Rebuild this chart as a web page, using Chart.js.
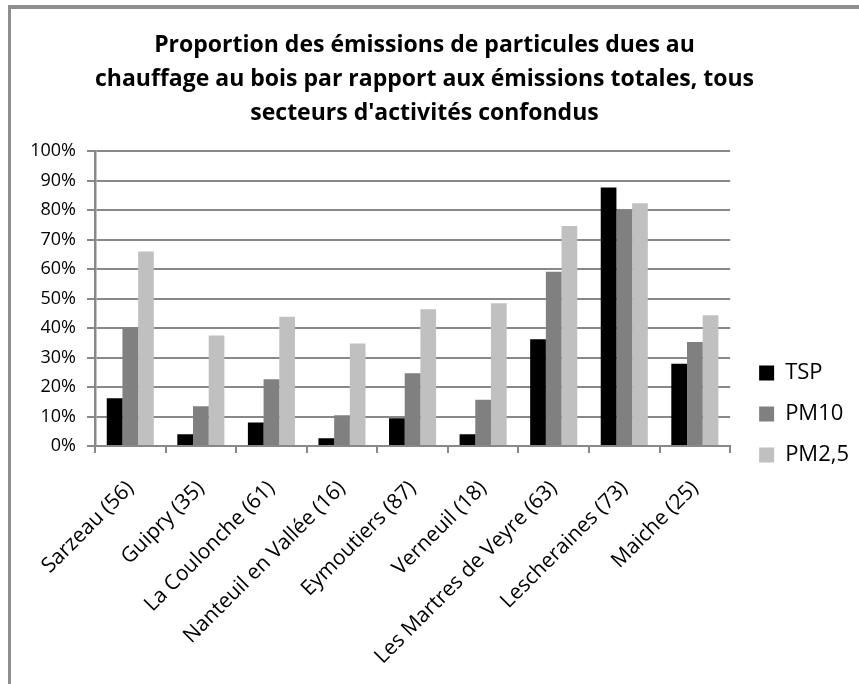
<!DOCTYPE html>
<html><head><meta charset="utf-8">
<script src="https://cdn.jsdelivr.net/npm/chart.js@4/dist/chart.umd.min.js"></script>
<style>
html,body{margin:0;padding:0;background:#fff;}
#wrap{position:relative;width:859px;height:684px;overflow:hidden;}
canvas{position:absolute;left:0;top:0;}
#frame{position:absolute;left:8px;top:5px;right:-10px;bottom:-10px;border-top:4px solid #8f8f8f;border-left:3px solid #8f8f8f;pointer-events:none;}
</style></head><body>
<div id="wrap"><canvas id="c" width="859" height="684"></canvas><div id="frame"></div></div>
<script>
const categories = ['Sarzeau (56)', 'Guipry (35)', 'La Coulonche (61)', 'Nanteuil en Vallée (16)', 'Eymoutiers (87)', 'Verneuil (18)', 'Les Martres de Veyre (63)', 'Lescheraines (73)', 'Maiche (25)'];
const tsp  = [16.2, 4.0, 8.0, 2.6, 9.4, 4.0, 36.2, 87.7, 27.9];
const pm10 = [40.2, 13.5, 22.6, 10.4, 24.7, 15.7, 59.1, 80.1, 35.3];
const pm25 = [66.0, 37.5, 43.8, 34.8, 46.4, 48.4, 74.6, 82.3, 44.3];
const seriesNames = ['TSP', 'PM10', 'PM2,5'];
const titleLines = ['Proportion des émissions de particules dues au', 'chauffage au bois par rapport aux émissions totales, tous', "secteurs d'activités confondus"];
const yMin = 0, yMax = 100, yStep = 10;

const FONT = "'Open Sans', 'DejaVu Sans', sans-serif";
const GRID = '#888888';

const legendShift = {
  id: 'legendShift',
  afterLayout(chart) {
    const l = chart.legend;
    if (l) { l.left += 10; l.right += 10; l.top += 72; l.bottom += 72; }
  }
};

new Chart(document.getElementById('c'), {
  type: 'bar',
  data: {
    labels: categories,
    datasets: [
      { label: seriesNames[0], data: tsp,  backgroundColor: '#000000' },
      { label: seriesNames[1], data: pm10, backgroundColor: '#808080' },
      { label: seriesNames[2], data: pm25, backgroundColor: '#c0c0c0' }
    ]
  },
  options: {
    responsive: false,
    animation: false,
    devicePixelRatio: 1,
    datasets: { bar: { categoryPercentage: 0.667, barPercentage: 1.0 } },
    layout: { padding: { left: 0, right: 10, top: 0, bottom: 0 } },
    plugins: {
      title: {
        display: true,
        text: titleLines,
        color: '#000',
        font: { family: FONT, size: 23, weight: 'bold', lineHeight: 1.48 },
        padding: { top: 28, bottom: 21 }
      },
      legend: {
        position: 'right',
        labels: {
          boxWidth: 15, boxHeight: 15, padding: 19, color: '#000',
          font: { family: FONT, size: 22 }
        }
      },
      tooltip: { enabled: false }
    },
    scales: {
      x: {
        grid: { drawOnChartArea: false, drawTicks: true, tickLength: 7, color: GRID, lineWidth: 2 },
        border: { color: GRID, width: 2 },
        ticks: { minRotation: 45, maxRotation: 45, autoSkip: false, color: '#000', padding: 23, font: { family: FONT, size: 21 } },
        afterFit(s) { s.height = 238; }
      },
      y: {
        min: yMin, max: yMax,
        grid: { color: GRID, lineWidth: 2, tickLength: 8 },
        border: { color: GRID, width: 2.5 },
        ticks: { stepSize: yStep, color: '#000', padding: 11, font: { family: FONT, size: 18 }, callback: v => v + '%' },
        afterFit(s) { s.width = 95; }
      }
    }
  },
  plugins: [legendShift]
});
</script>
</body></html>
